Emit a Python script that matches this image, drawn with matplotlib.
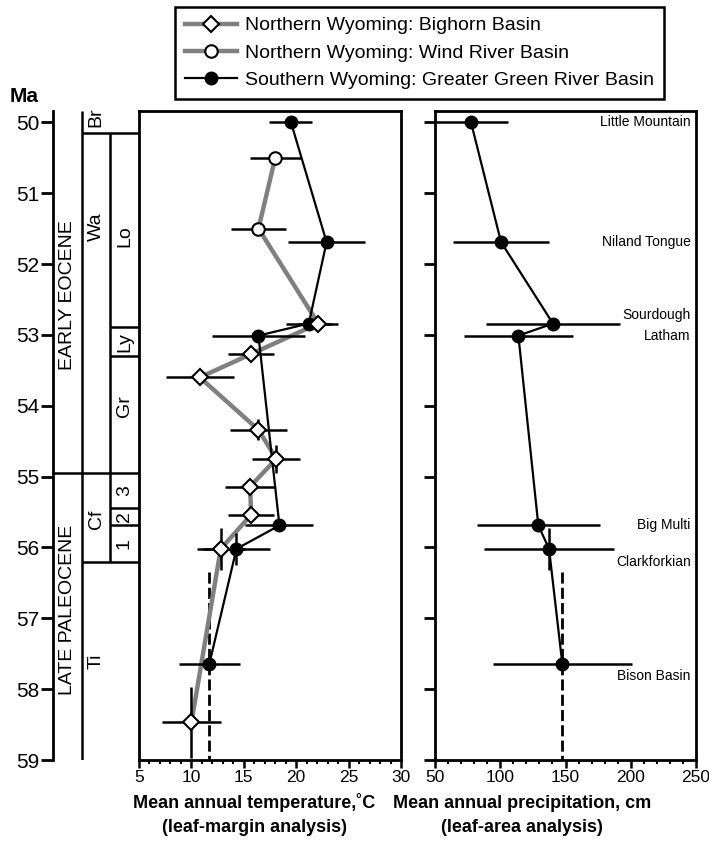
import matplotlib
matplotlib.use('Agg')
import matplotlib.pyplot as plt
from matplotlib.lines import Line2D
from matplotlib.ticker import MultipleLocator
import numpy as np

plt.rcParams['font.family'] = ['Liberation Sans', 'DejaVu Sans']

# ages in Ma
ma_ticks = [50, 51, 52, 53, 54, 55, 56, 57, 58, 59]

# Northern Wyoming: Bighorn Basin
bh_ma = [52.84, 53.27, 53.60, 54.34, 54.75, 55.14, 55.54, 56.02, 58.47]
bh_t = [22.1, 15.7, 10.8, 16.4, 18.1, 15.6, 15.7, 12.8, 10.0]
bh_terr = [1.9, 2.2, 3.25, 2.7, 2.3, 2.35, 2.2, 2.3, 2.8]
bh_maerr = [0, 0, 0, 0.15, 0.2, 0, 0, 0.3, 0.5]

# Northern Wyoming: Wind River Basin
wr_ma = [50.5, 51.5]
wr_t = [18.0, 16.4]
wr_terr = [2.45, 2.6]

# Southern Wyoming: Greater Green River Basin
gg_ma = [50.0, 51.69, 52.84, 53.01, 55.69, 56.02, 57.65]
gg_t = [19.5, 22.9, 21.2, 16.4, 18.4, 14.3, 11.7]
gg_terr = [2.05, 3.7, 2.2, 4.4, 3.25, 3.2, 2.9]
gg_maerr = [0, 0, 0, 0, 0, 0.23, 0]
gg_p = [77.6, 100.6, 140.4, 113.9, 129.2, 137.4, 147.6]
gg_perr = [28, 37, 51, 41.5, 47, 50, 53]
gg_pmaerr = [0, 0, 0, 0, 0, 0.3, 0]
gg_names = ['Little Mountain', 'Niland Tongue', 'Sourdough', 'Latham',
            'Big Multi', 'Clarkforkian', 'Bison Basin']
name_ma = [50.0, 51.69, 52.72, 53.01, 55.69, 56.2, 57.81]

# late Paleocene means (dashed)
pal_start = 56.34
pal_t = 11.7
pal_p = 147.6

# stratigraphic boundaries
b_br = 50.15
b_ly_top = 52.89
b_ly_bot = 53.30
b_epoch = 54.95
b_cf2_top = 55.44
b_cf2_bot = 55.68
b_cf_bot = 56.21

ylim = (59, 49.84)
W, H = 709, 841
fig = plt.figure(figsize=(W / 100, H / 100), dpi=100)

def box(x0, x1, y0=111, y1=760):
    return [x0 / W, 1 - y1 / H, (x1 - x0) / W, (y1 - y0) / H]

ax0 = fig.add_axes(box(53, 139))
ax1 = fig.add_axes(box(139, 401))
ax2 = fig.add_axes(box(435, 696))

# --- strat column
ax0.set_xlim(0, 1)
ax0.set_ylim(*ylim)
for s in ['top', 'right', 'bottom']:
    ax0.spines[s].set_visible(False)
ax0.spines['left'].set_linewidth(2)
ax0.set_xticks([])
ax0.set_yticks(ma_ticks)
ax0.tick_params(axis='y', length=9, width=2, labelsize=15, pad=1)
c1, c2 = 0.337, 0.663
lk = dict(color='black', lw=1.8, solid_capstyle='butt')
ax0.plot([c1, c1], [49.84, 59], **lk)
ax0.plot([c2, c2], [b_br, b_cf_bot], **lk)
ax0.plot([c1, 1], [b_br, b_br], **lk)
ax0.plot([c2, 1], [b_ly_top, b_ly_top], **lk)
ax0.plot([c2, 1], [b_ly_bot, b_ly_bot], **lk)
ax0.plot([0, 1], [b_epoch, b_epoch], **lk)
ax0.plot([c2, 1], [b_cf2_top, b_cf2_top], **lk)
ax0.plot([c2, 1], [b_cf2_bot, b_cf2_bot], **lk)
ax0.plot([c1, 1], [b_cf_bot, b_cf_bot], **lk)
tk = dict(rotation=90, ha='center', va='center', fontsize=14)
ax0.text(0.17, 52.44, 'EARLY EOCENE', **tk)
ax0.text(0.17, 56.88, 'LATE PALEOCENE', **tk)
ax0.text(0.5, 49.93, 'Br', **tk)
ax0.text(0.5, 51.47, 'Wa', **tk)
ax0.text(0.5, 55.6, 'Cf', **tk)
ax0.text(0.5, 57.6, 'Ti', **tk)
ax0.text(0.83, 51.6, 'Lo', **tk)
ax0.text(0.83, 53.1, 'Ly', **tk)
ax0.text(0.83, 54.0, 'Gr', **tk)
ax0.text(0.83, 55.2, '3', **tk)
ax0.text(0.83, 55.56, '2', **tk)
ax0.text(0.83, 55.95, '1', **tk)
fig.text(10 / W, 1 - 97 / H, 'Ma', fontsize=15, fontweight='bold', va='center')

grey = '#808080'
eb = dict(fmt='none', ecolor='black', elinewidth=1.8, capsize=0, zorder=4)

# --- temperature panel
ax1.set_xlim(5, 30)
ax1.set_ylim(*ylim)
north_ma = wr_ma + bh_ma
north_t = wr_t + bh_t
ax1.plot(north_t, north_ma, color=grey, lw=3.2, zorder=3, solid_capstyle='round')
ax1.plot(gg_t, gg_ma, color='black', lw=1.6, zorder=5)
ax1.errorbar(bh_t, bh_ma, xerr=bh_terr, yerr=bh_maerr, **eb)
ax1.errorbar(wr_t, wr_ma, xerr=wr_terr, **eb)
ax1.errorbar(gg_t, gg_ma, xerr=gg_terr, yerr=gg_maerr, **eb)
ax1.plot([pal_t, pal_t], [pal_start, 59], color='black', lw=2,
         ls=(0, (4, 1.5)), zorder=2)
ax1.plot(gg_t, gg_ma, 'o', color='black', ms=9, zorder=6)
ax1.plot(bh_t, bh_ma, 'D', mfc='white', mec='black', mew=1.5, ms=8, zorder=7)
ax1.plot(wr_t, wr_ma, 'o', mfc='white', mec='black', mew=1.5, ms=9, zorder=7)
ax1.set_yticks([])
ax1.xaxis.set_major_locator(MultipleLocator(5))
ax1.xaxis.set_minor_locator(MultipleLocator(1))

# --- precipitation panel
ax2.set_xlim(50, 250)
ax2.set_ylim(*ylim)
ax2.plot(gg_p, gg_ma, color='black', lw=1.6, zorder=5)
ax2.errorbar(gg_p, gg_ma, xerr=gg_perr, yerr=gg_pmaerr, **eb)
ax2.plot([pal_p, pal_p], [pal_start, 59], color='black', lw=2,
         ls=(0, (4, 1.5)), zorder=2)
ax2.plot(gg_p, gg_ma, 'o', color='black', ms=9, zorder=6)
for name, m in zip(gg_names, name_ma):
    ax2.text(246, m, name, ha='right', va='center', fontsize=10)
ax2.set_yticks(ma_ticks)
ax2.set_yticklabels([])
ax2.tick_params(axis='y', length=8, width=2)
ax2.xaxis.set_major_locator(MultipleLocator(50))
ax2.xaxis.set_minor_locator(MultipleLocator(10))

for ax in (ax1, ax2):
    for s in ax.spines.values():
        s.set_linewidth(2)
    ax.tick_params(axis='x', which='major', length=6, width=1.8, labelsize=12.5, pad=1)
    ax.tick_params(axis='x', which='minor', length=3, width=1.5)

lab = dict(fontsize=13, fontweight='bold', ha='center', va='center')
fig.text(254 / W, 1 - 803 / H, 'Mean annual temperature,˚C', **lab)
fig.text(254 / W, 1 - 828 / H, '(leaf-margin analysis)', **lab)
fig.text(522 / W, 1 - 803 / H, 'Mean annual precipitation, cm', **lab)
fig.text(522 / W, 1 - 828 / H, '(leaf-area analysis)', **lab)

# --- legend
handles = [
    Line2D([], [], color=grey, lw=3.2, marker='D', mfc='white', mec='black', mew=1.5, ms=8),
    Line2D([], [], color=grey, lw=3.2, marker='o', mfc='white', mec='black', mew=1.5, ms=9),
    Line2D([], [], color='black', lw=1.6, marker='o', mfc='black', mec='black', ms=9),
]
labels = ['Northern Wyoming: Bighorn Basin',
          'Northern Wyoming: Wind River Basin',
          'Southern Wyoming: Greater Green River Basin']
leg = fig.legend(handles, labels, loc='upper left',
                 bbox_to_anchor=(175 / W, 1 - 7 / H), fontsize=14,
                 frameon=True, fancybox=False, framealpha=1, edgecolor='black',
                 borderpad=0.5, labelspacing=0.5, handlelength=2.7,
                 handletextpad=0.4, borderaxespad=0)
leg.get_frame().set_linewidth(1.8)

fig.savefig('out.png', dpi=100)
